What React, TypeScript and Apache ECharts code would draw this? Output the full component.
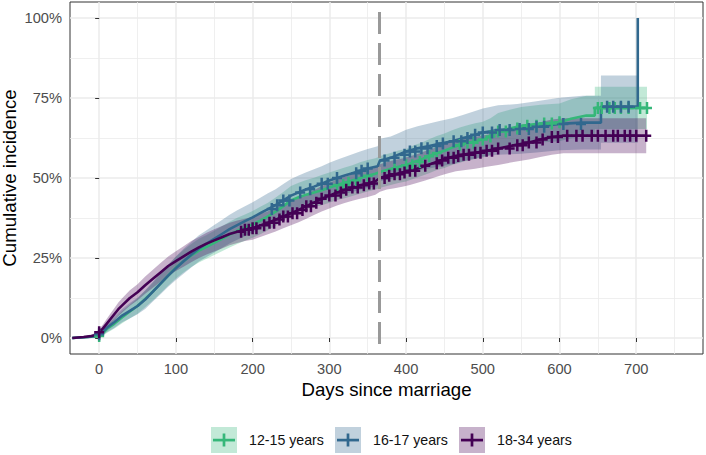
import React, { useEffect, useRef } from "react";
import * as echarts from "echarts";

// ---------- data ----------
const GROUPS = ["12-15 years", "16-17 years", "18-34 years"];
const COLORS = ["#35B779", "#31688E", "#440154"];

const X_TICKS = [0, 100, 200, 300, 400, 500, 600, 700];
const X_MINOR = [50, 150, 250, 350, 450, 550, 650, 750];
const Y_TICKS = [0, 25, 50, 75, 100];
const Y_MINOR = [12.5, 37.5, 62.5, 87.5];
const ONE_YEAR = 365;

// [day, estimate %, lower %, upper %]
const GREEN: number[][] = [
  [-35, 0, 0, 0], [-15, 0.3, 0, 0.7], [0, 0.6, 0.1, 1.2], [5, 1.5, 0.6, 2.4],
  [10, 2.8, 1.6, 4.0], [20, 4.5, 3.0, 6.0], [30, 6.5, 4.6, 8.4], [40, 8.3, 6.2, 10.4],
  [50, 10.0, 7.6, 12.4], [60, 12.2, 9.6, 14.8], [70, 14.5, 11.7, 17.3], [80, 17.0, 14.0, 20.0],
  [90, 19.5, 16.3, 22.7], [100, 22.0, 18.6, 25.4], [110, 24.0, 20.5, 27.5], [120, 25.8, 22.2, 29.4],
  [130, 27.3, 23.6, 31.0], [140, 28.5, 24.8, 32.2], [150, 29.7, 25.9, 33.5], [160, 31.0, 27.1, 34.9],
  [170, 32.3, 28.3, 36.3], [180, 33.5, 29.4, 37.6], [190, 34.5, 30.4, 38.6], [200, 35.5, 31.3, 39.7],
  [210, 36.7, 32.4, 41.0], [220, 38.0, 33.7, 42.3], [230, 39.5, 35.1, 43.9], [240, 41.2, 36.8, 45.6],
  [250, 43.0, 38.5, 47.5], [260, 44.0, 39.5, 48.5], [270, 44.8, 40.2, 49.4], [280, 45.5, 40.9, 50.1],
  [290, 46.2, 41.5, 50.9], [300, 47.0, 42.3, 51.7], [310, 47.8, 43.1, 52.5], [320, 48.5, 43.7, 53.3],
  [330, 49.2, 44.4, 54.0], [340, 50.0, 45.1, 54.9], [350, 50.7, 45.8, 55.6], [360, 51.3, 46.4, 56.2],
  [370, 52.2, 47.2, 57.2], [380, 52.8, 47.8, 57.8], [390, 53.5, 48.4, 58.6], [400, 54.0, 48.9, 59.1],
  [410, 55.0, 49.8, 60.2], [420, 55.8, 50.6, 61.0], [430, 56.8, 51.5, 62.1], [440, 57.8, 52.5, 63.1],
  [450, 58.5, 53.1, 63.9], [460, 59.5, 54.1, 64.9], [470, 60.3, 54.8, 65.8], [480, 61.0, 55.5, 66.5],
  [490, 61.5, 55.9, 67.1], [500, 62.0, 56.4, 67.6], [510, 63.0, 57.3, 68.7], [520, 64.5, 58.7, 70.3],
  [535, 65.5, 59.7, 71.3], [550, 66.3, 60.4, 72.2], [575, 67.0, 61.1, 72.9], [600, 67.4, 61.5, 73.3],
  [615, 68.5, 62.4, 74.6], [635, 69.5, 63.3, 75.7], [646, 69.5, 63.3, 75.7], [646, 71.9, 65.3, 78.5],
  [714, 71.9, 65.3, 78.5],
];

const BLUE: number[][] = [
  [-35, 0, 0, 0], [-15, 0.3, 0, 0.7], [-5, 0.6, 0.1, 1.2], [0, 1.2, 0.4, 2.0],
  [5, 2.0, 0.9, 3.1], [10, 3.2, 1.8, 4.6], [20, 5.0, 3.2, 6.8], [30, 7.0, 4.9, 9.1],
  [40, 8.5, 6.1, 10.9], [50, 10.0, 7.4, 12.6], [60, 12.0, 9.1, 14.9], [70, 14.5, 11.4, 17.6],
  [80, 17.0, 13.7, 20.3], [90, 19.5, 16.0, 23.0], [100, 21.8, 18.1, 25.5], [110, 24.0, 20.1, 27.9],
  [120, 26.0, 22.0, 30.0], [130, 28.0, 23.9, 32.1], [140, 29.5, 25.3, 33.7], [150, 31.0, 26.7, 35.3],
  [160, 32.5, 28.1, 36.9], [170, 34.0, 29.5, 38.5], [180, 35.3, 30.7, 39.9], [190, 36.5, 31.8, 41.2],
  [200, 37.7, 33.0, 42.4], [210, 39.0, 34.2, 43.8], [220, 40.3, 35.4, 45.2], [230, 41.5, 36.5, 46.5],
  [240, 43.0, 37.9, 48.1], [250, 44.5, 39.3, 49.7], [260, 45.5, 40.2, 50.8], [270, 46.5, 41.2, 51.8],
  [280, 47.3, 41.9, 52.7], [290, 48.2, 42.7, 53.7], [300, 49.2, 43.6, 54.8], [310, 50.0, 44.3, 55.7],
  [320, 50.8, 45.0, 56.6], [330, 51.5, 45.6, 57.4], [340, 52.3, 46.3, 58.3], [350, 53.0, 46.9, 59.1],
  [363, 53.7, 47.5, 59.9], [366, 55.5, 49.0, 62.3], [380, 56.3, 49.7, 63.0], [390, 57.3, 50.6, 64.0],
  [400, 58.3, 51.5, 65.1], [415, 59.3, 52.4, 66.2], [430, 60.0, 53.0, 67.0], [445, 60.8, 53.7, 67.9],
  [460, 61.5, 54.3, 68.7], [475, 62.5, 55.2, 69.8], [490, 63.5, 56.1, 70.9], [500, 64.2, 56.7, 71.7],
  [520, 65.0, 57.3, 72.7], [545, 65.3, 57.5, 73.1], [570, 66.0, 58.0, 74.0], [600, 66.9, 58.7, 75.1],
  [630, 67.3, 58.9, 75.7], [654, 67.3, 58.9, 75.7], [654, 72.3, 61.0, 82.0], [702, 72.3, 61.0, 82.0],
  [702, 100, 61.0, 82.0],
];

const PURPLE: number[][] = [
  [-35, 0, 0, 0], [-20, 0.3, 0, 0.7], [-10, 0.6, 0.1, 1.1], [-3, 1.0, 0.3, 1.7],
  [0, 1.8, 0.9, 2.7], [5, 3.0, 1.8, 4.2], [10, 4.5, 3.0, 6.0], [15, 6.0, 4.3, 7.7],
  [20, 7.5, 5.6, 9.4], [25, 9.0, 6.9, 11.1], [30, 10.2, 8.0, 12.4], [40, 12.5, 10.1, 14.9],
  [50, 14.3, 11.8, 16.8], [60, 16.5, 13.8, 19.2], [70, 18.5, 15.7, 21.3], [80, 20.5, 17.6, 23.4],
  [90, 22.5, 19.5, 25.5], [100, 24.0, 20.9, 27.1], [110, 25.5, 22.3, 28.7], [120, 27.0, 23.7, 30.3],
  [130, 28.3, 25.0, 31.6], [140, 29.5, 26.1, 32.9], [150, 30.5, 27.0, 34.0], [160, 31.5, 28.0, 35.0],
  [170, 32.5, 29.0, 36.0], [180, 33.2, 29.7, 36.7], [190, 33.8, 30.3, 37.3], [200, 34.3, 30.7, 37.9],
  [210, 35.2, 31.6, 38.8], [220, 36.0, 32.4, 39.6], [230, 37.0, 33.3, 40.7], [240, 38.0, 34.3, 41.7],
  [250, 39.0, 35.2, 42.8], [260, 40.0, 36.2, 43.8], [270, 41.2, 37.3, 45.1], [280, 42.3, 38.4, 46.2],
  [290, 43.5, 39.5, 47.5], [300, 44.5, 40.5, 48.5], [310, 45.5, 41.4, 49.6], [320, 46.3, 42.2, 50.4],
  [330, 47.0, 42.9, 51.1], [340, 47.7, 43.5, 51.9], [350, 48.3, 44.1, 52.5], [360, 49.0, 44.8, 53.2],
  [366, 50.0, 45.7, 54.3], [375, 50.7, 46.4, 55.0], [385, 51.2, 46.8, 55.6], [395, 51.7, 47.3, 56.1],
  [405, 52.3, 47.8, 56.8], [415, 53.0, 48.5, 57.5], [425, 53.8, 49.2, 58.4], [435, 54.6, 50.0, 59.2],
  [445, 55.5, 50.8, 60.2], [455, 56.3, 51.5, 61.1], [465, 56.9, 52.1, 61.7], [475, 57.3, 52.4, 62.2],
  [490, 57.9, 52.9, 62.9], [505, 58.5, 53.5, 63.5], [520, 59.2, 54.1, 64.3], [540, 60.2, 55.0, 65.4],
  [560, 61.1, 55.8, 66.4], [575, 62.0, 56.6, 67.4], [590, 62.8, 57.3, 68.3], [605, 63.2, 57.7, 68.7],
  [713, 63.2, 57.7, 68.7],
];

// censoring times (days)
const GREEN_CENSOR = [0, 310, 318, 325, 335, 350, 385, 400, 408, 418, 430, 440, 470, 480, 488, 500, 510, 520, 530, 545, 558, 570, 580, 590, 600, 650, 655, 665, 672, 680, 690, 705, 714];
const BLUE_CENSOR = [0, 225, 232, 240, 248, 262, 275, 290, 298, 310, 335, 342, 350, 372, 385, 398, 405, 412, 420, 428, 440, 448, 462, 472, 480, 490, 500, 512, 522, 535, 548, 560, 570, 580, 605, 628, 662, 670, 680, 690];
const PURPLE_CENSOR = [0, 185, 190, 195, 200, 205, 215, 222, 228, 235, 240, 246, 252, 258, 265, 270, 276, 283, 290, 300, 308, 315, 322, 330, 337, 345, 352, 358, 372, 378, 385, 392, 398, 405, 412, 425, 440, 447, 455, 462, 468, 475, 482, 490, 497, 505, 512, 520, 535, 545, 552, 560, 570, 578, 590, 598, 610, 622, 630, 642, 650, 660, 670, 676, 685, 692, 700, 713];

const CURVES = [GREEN, BLUE, PURPLE];
const CENSORS = [GREEN_CENSOR, BLUE_CENSOR, PURPLE_CENSOR];

// ---------- styling ----------
const FONT = "'Liberation Sans', Arial, Helvetica, sans-serif";
const PLUS = "path://M-1.25,-6H1.25V6H-1.25Z M-5,-1.25H5V1.25H-5Z";
const LEGEND_LEFT = [211, 335, 459];
const LEGEND_TOP = 427;

function rgba(hex: string, a: number) {
  const n = parseInt(hex.slice(1), 16);
  return `rgba(${(n >> 16) & 255},${(n >> 8) & 255},${n & 255},${a})`;
}

function stepValue(rows: number[][], t: number) {
  let y = rows[0][1];
  for (const r of rows) {
    if (r[0] <= t) y = r[1];
    else break;
  }
  return y;
}

export default function App() {
  const ref = useRef<HTMLDivElement>(null);

  useEffect(() => {
    if (!ref.current) return;
    const chart = echarts.init(ref.current, null, { renderer: "svg" });

    const bandSeries = CURVES.map((rows, i) => ({
      type: "custom",
      name: GROUPS[i],
      xAxisIndex: 0,
      yAxisIndex: 0,
      z: 1,
      silent: true,
      clip: true,
      data: [[rows[0][0], rows[0][2]]],
      renderItem: (_params: any, api: any) => {
        const pts: number[][] = [];
        for (let k = 0; k < rows.length; k++) pts.push(api.coord([rows[k][0], rows[k][3]]));
        for (let k = rows.length - 1; k >= 0; k--) pts.push(api.coord([rows[k][0], rows[k][2]]));
        return {
          type: "polygon",
          shape: { points: pts },
          style: { fill: rgba(COLORS[i], 0.3), stroke: "none" },
        };
      },
    }));

    const lineSeries = CURVES.map((rows, i) => ({
      type: "line",
      name: GROUPS[i] + " estimate",
      xAxisIndex: 0,
      yAxisIndex: 0,
      z: 2,
      silent: true,
      showSymbol: false,
      symbol: "none",
      data: rows.map((r) => [r[0], r[1]]),
      lineStyle: { color: COLORS[i], width: 2.6 },
      itemStyle: { color: COLORS[i] },
    }));

    const censorSeries = CENSORS.map((ts, i) => ({
      type: "scatter",
      name: GROUPS[i] + " censored",
      xAxisIndex: 0,
      yAxisIndex: 0,
      z: 3,
      silent: true,
      symbol: PLUS,
      symbolSize: [10, 12],
      data: ts.map((t) => [t, stepValue(CURVES[i], t)]),
      itemStyle: { color: COLORS[i], opacity: 1 },
      ...(i === 2
        ? {
            markLine: {
              silent: true,
              symbol: "none",
              animation: false,
              label: { show: false },
              lineStyle: { color: "#999999", width: 3, type: [22, 9], dashOffset: 21 },
              data: [{ xAxis: ONE_YEAR }],
            },
          }
        : {}),
    }));

    const option: any = {
      animation: false,
      backgroundColor: "#ffffff",
      grid: {
        left: 70,
        right: 3,
        top: 2,
        bottom: 101,
        show: true,
        borderColor: "#333333",
        borderWidth: 1,
        backgroundColor: "transparent",
        containLabel: false,
        outerBoundsMode: "none",
      },
      xAxis: [
        {
          type: "value",
          min: -38,
          max: 787,
          position: "bottom",
          axisLine: { show: false },
          axisTick: { show: true, length: 4, lineStyle: { color: "#333333", width: 1 }, customValues: X_TICKS },
          axisLabel: { customValues: X_TICKS, color: "#4D4D4D", fontSize: 14.67, margin: 7, fontFamily: FONT },
          splitLine: { show: true, lineStyle: { color: "#EBEBEB", width: 1.5 } },
          name: "Days since marriage",
          nameLocation: "middle",
          nameGap: 26,
          nameMoveOverlap: false,
          nameTextStyle: { fontSize: 18.67, color: "#000000", fontFamily: FONT },
        },
        {
          type: "value",
          min: -38,
          max: 787,
          position: "top",
          axisLine: { show: false },
          axisTick: { show: false, customValues: X_MINOR },
          axisLabel: { show: false, customValues: X_MINOR },
          splitLine: { show: true, lineStyle: { color: "#EBEBEB", width: 0.8 } },
        },
      ],
      yAxis: [
        {
          type: "value",
          min: -5,
          max: 105,
          position: "left",
          axisLine: { show: false },
          axisTick: { show: true, length: 4, lineStyle: { color: "#333333", width: 1 }, customValues: Y_TICKS },
          axisLabel: {
            customValues: Y_TICKS,
            color: "#4D4D4D",
            fontSize: 14.67,
            margin: 8,
            fontFamily: FONT,
            formatter: (v: number) => `${v}%`,
          },
          splitLine: { show: true, lineStyle: { color: "#EBEBEB", width: 1.5 } },
          name: "Cumulative incidence",
          nameLocation: "middle",
          nameGap: 51,
          nameMoveOverlap: false,
          nameTextStyle: { fontSize: 18.67, color: "#000000", fontFamily: FONT },
        },
        {
          type: "value",
          min: -5,
          max: 105,
          position: "right",
          axisLine: { show: false },
          axisTick: { show: false, customValues: Y_MINOR },
          axisLabel: { show: false, customValues: Y_MINOR },
          splitLine: { show: true, lineStyle: { color: "#EBEBEB", width: 0.8 } },
        },
      ],
      legend: GROUPS.map((g, i) => ({
        show: true,
        selectedMode: false,
        left: LEGEND_LEFT[i],
        top: LEGEND_TOP,
        padding: 0,
        itemWidth: 26,
        itemHeight: 26,
        data: [{ name: g, icon: "rect", itemStyle: { color: rgba(COLORS[i], 0.3), borderWidth: 0 } }],
        textStyle: { fontSize: 14.2, color: "#111111", fontFamily: FONT, padding: [0, 0, 0, 7] },
      })),
      graphic: GROUPS.map((g, i) => ({
        type: "group",
        left: LEGEND_LEFT[i] + 2,
        top: LEGEND_TOP + 6.5,
        z: 100,
        children: [
          { type: "rect", shape: { x: 0, y: 5.25, width: 22, height: 2.7 }, style: { fill: COLORS[i] }, z: 100 },
          { type: "rect", shape: { x: 9.65, y: 0, width: 2.7, height: 13 }, style: { fill: COLORS[i] }, z: 100 },
        ],
      })),
      series: [...bandSeries, ...lineSeries, ...censorSeries],
    };

    chart.setOption(option);
    return () => chart.dispose();
  }, []);

  return (
    <div
      ref={ref}
      style={{ position: "fixed", left: 0, top: 0, width: 706, height: 455, background: "#fff" }}
    />
  );
}
